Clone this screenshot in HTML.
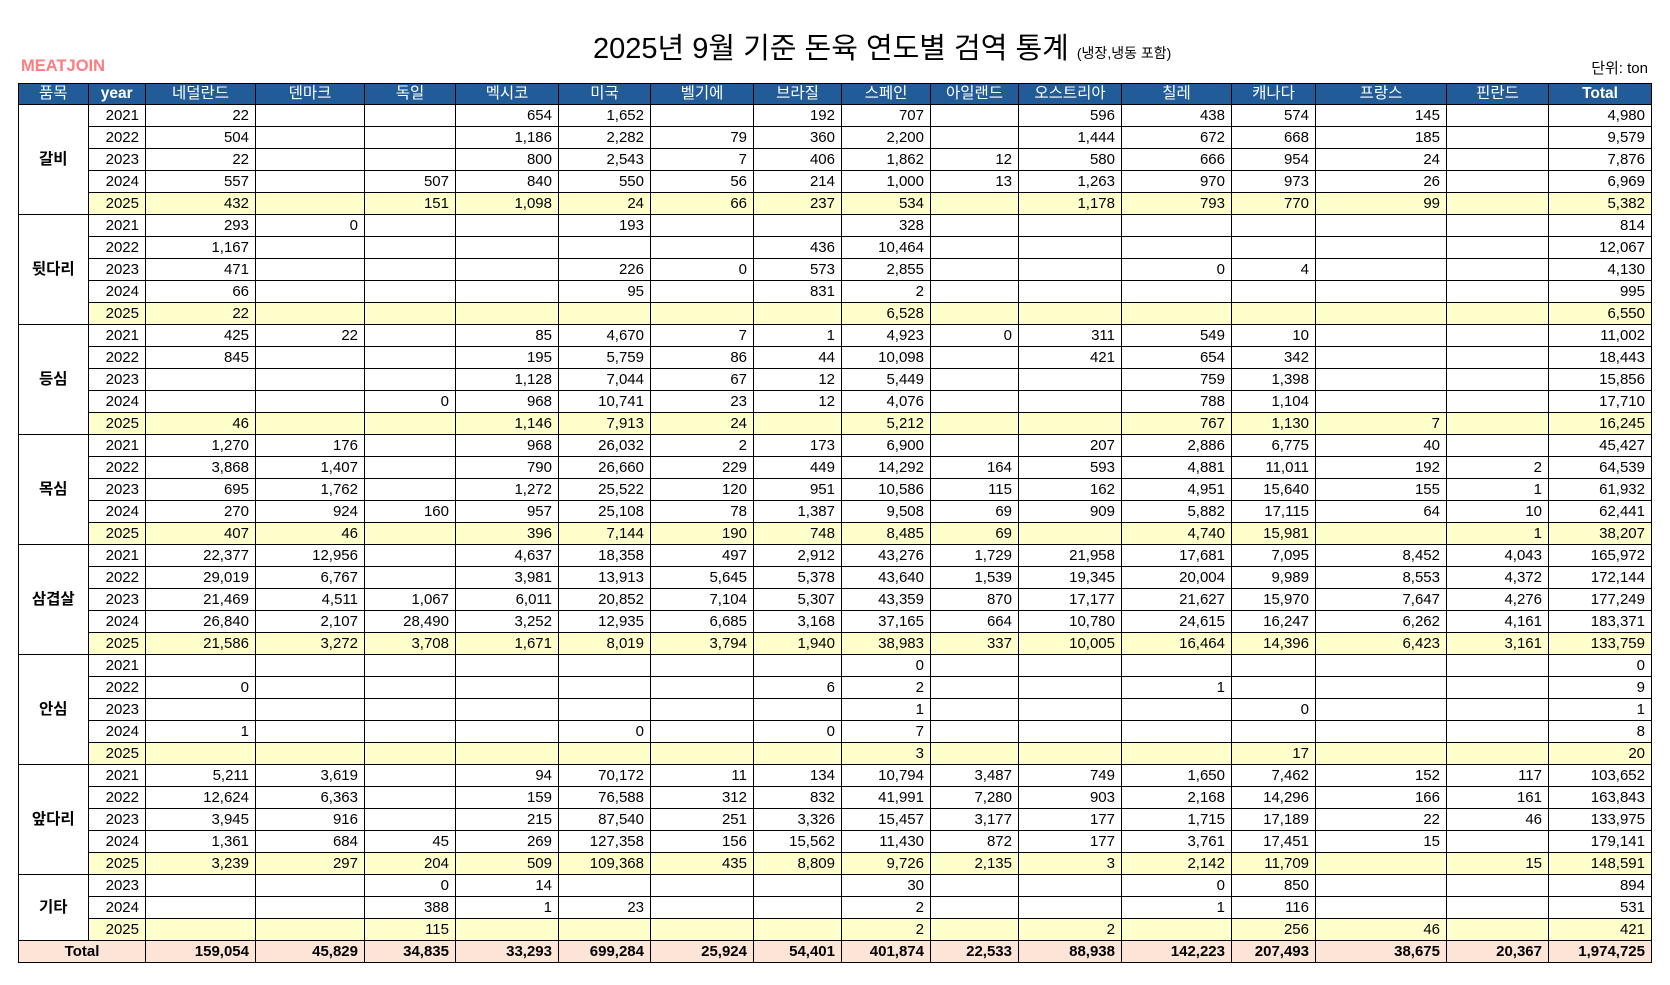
<!DOCTYPE html>
<html><head><meta charset="utf-8">
<style>
html,body{margin:0;padding:0;background:#fff;}
body{width:1670px;height:985px;position:relative;overflow:hidden;font-family:"Liberation Sans","Noto Sans CJK KR",sans-serif;}
#title{position:absolute;left:593px;top:25px;white-space:nowrap;font-size:29px;color:#000;}
#title small{font-size:14px;}
#logo{position:absolute;left:21px;top:57px;font-size:16.5px;font-weight:bold;color:#ff7c80;}
#unit{position:absolute;right:22px;top:57px;font-size:15px;}
table{position:absolute;left:18px;top:83px;border-collapse:collapse;table-layout:fixed;width:1633px;font-size:15px;}
td,th{border:1.3px solid #000;height:21px;padding:0 6px 0 0;text-align:right;white-space:nowrap;line-height:20px;overflow:hidden;}
th{background:#225c98;color:#fff;font-weight:normal;text-align:center;padding:0;height:20px;font-size:15.5px;}
th.b{font-weight:bold;}
td.g{text-align:center;font-weight:bold;font-size:15.5px;padding:0;}
tr.y td:not(.g){background:#ffffcc;}
tr.t td{background:#fce4d6;font-weight:bold;}
tr.t td.c{text-align:center;padding:0;}
</style></head><body>
<div id="title">2025년 9월 기준 돈육 연도별 검역 통계 <small>(냉장,냉동 포함)</small></div>
<div id="logo">MEATJOIN</div>
<div id="unit">단위: ton</div>
<table>
<colgroup><col style="width:69.5px"><col style="width:57.5px"><col style="width:110px"><col style="width:109px"><col style="width:91px"><col style="width:103px"><col style="width:92px"><col style="width:103px"><col style="width:88px"><col style="width:89px"><col style="width:88px"><col style="width:103px"><col style="width:110px"><col style="width:84px"><col style="width:131px"><col style="width:102px"><col style="width:103px"></colgroup>
<tr><th>품목</th><th class="b">year</th><th>네덜란드</th><th>덴마크</th><th>독일</th><th>멕시코</th><th>미국</th><th>벨기에</th><th>브라질</th><th>스페인</th><th>아일랜드</th><th>오스트리아</th><th>칠레</th><th>캐나다</th><th>프랑스</th><th>핀란드</th><th class="b">Total</th></tr>

<tr><td class="g" rowspan="5">갈비</td><td>2021</td><td>22</td><td></td><td></td><td>654</td><td>1,652</td><td></td><td>192</td><td>707</td><td></td><td>596</td><td>438</td><td>574</td><td>145</td><td></td><td>4,980</td></tr>
<tr><td>2022</td><td>504</td><td></td><td></td><td>1,186</td><td>2,282</td><td>79</td><td>360</td><td>2,200</td><td></td><td>1,444</td><td>672</td><td>668</td><td>185</td><td></td><td>9,579</td></tr>
<tr><td>2023</td><td>22</td><td></td><td></td><td>800</td><td>2,543</td><td>7</td><td>406</td><td>1,862</td><td>12</td><td>580</td><td>666</td><td>954</td><td>24</td><td></td><td>7,876</td></tr>
<tr><td>2024</td><td>557</td><td></td><td>507</td><td>840</td><td>550</td><td>56</td><td>214</td><td>1,000</td><td>13</td><td>1,263</td><td>970</td><td>973</td><td>26</td><td></td><td>6,969</td></tr>
<tr class="y"><td>2025</td><td>432</td><td></td><td>151</td><td>1,098</td><td>24</td><td>66</td><td>237</td><td>534</td><td></td><td>1,178</td><td>793</td><td>770</td><td>99</td><td></td><td>5,382</td></tr>

<tr><td class="g" rowspan="5">뒷다리</td><td>2021</td><td>293</td><td>0</td><td></td><td></td><td>193</td><td></td><td></td><td>328</td><td></td><td></td><td></td><td></td><td></td><td></td><td>814</td></tr>
<tr><td>2022</td><td>1,167</td><td></td><td></td><td></td><td></td><td></td><td>436</td><td>10,464</td><td></td><td></td><td></td><td></td><td></td><td></td><td>12,067</td></tr>
<tr><td>2023</td><td>471</td><td></td><td></td><td></td><td>226</td><td>0</td><td>573</td><td>2,855</td><td></td><td></td><td>0</td><td>4</td><td></td><td></td><td>4,130</td></tr>
<tr><td>2024</td><td>66</td><td></td><td></td><td></td><td>95</td><td></td><td>831</td><td>2</td><td></td><td></td><td></td><td></td><td></td><td></td><td>995</td></tr>
<tr class="y"><td>2025</td><td>22</td><td></td><td></td><td></td><td></td><td></td><td></td><td>6,528</td><td></td><td></td><td></td><td></td><td></td><td></td><td>6,550</td></tr>

<tr><td class="g" rowspan="5">등심</td><td>2021</td><td>425</td><td>22</td><td></td><td>85</td><td>4,670</td><td>7</td><td>1</td><td>4,923</td><td>0</td><td>311</td><td>549</td><td>10</td><td></td><td></td><td>11,002</td></tr>
<tr><td>2022</td><td>845</td><td></td><td></td><td>195</td><td>5,759</td><td>86</td><td>44</td><td>10,098</td><td></td><td>421</td><td>654</td><td>342</td><td></td><td></td><td>18,443</td></tr>
<tr><td>2023</td><td></td><td></td><td></td><td>1,128</td><td>7,044</td><td>67</td><td>12</td><td>5,449</td><td></td><td></td><td>759</td><td>1,398</td><td></td><td></td><td>15,856</td></tr>
<tr><td>2024</td><td></td><td></td><td>0</td><td>968</td><td>10,741</td><td>23</td><td>12</td><td>4,076</td><td></td><td></td><td>788</td><td>1,104</td><td></td><td></td><td>17,710</td></tr>
<tr class="y"><td>2025</td><td>46</td><td></td><td></td><td>1,146</td><td>7,913</td><td>24</td><td></td><td>5,212</td><td></td><td></td><td>767</td><td>1,130</td><td>7</td><td></td><td>16,245</td></tr>

<tr><td class="g" rowspan="5">목심</td><td>2021</td><td>1,270</td><td>176</td><td></td><td>968</td><td>26,032</td><td>2</td><td>173</td><td>6,900</td><td></td><td>207</td><td>2,886</td><td>6,775</td><td>40</td><td></td><td>45,427</td></tr>
<tr><td>2022</td><td>3,868</td><td>1,407</td><td></td><td>790</td><td>26,660</td><td>229</td><td>449</td><td>14,292</td><td>164</td><td>593</td><td>4,881</td><td>11,011</td><td>192</td><td>2</td><td>64,539</td></tr>
<tr><td>2023</td><td>695</td><td>1,762</td><td></td><td>1,272</td><td>25,522</td><td>120</td><td>951</td><td>10,586</td><td>115</td><td>162</td><td>4,951</td><td>15,640</td><td>155</td><td>1</td><td>61,932</td></tr>
<tr><td>2024</td><td>270</td><td>924</td><td>160</td><td>957</td><td>25,108</td><td>78</td><td>1,387</td><td>9,508</td><td>69</td><td>909</td><td>5,882</td><td>17,115</td><td>64</td><td>10</td><td>62,441</td></tr>
<tr class="y"><td>2025</td><td>407</td><td>46</td><td></td><td>396</td><td>7,144</td><td>190</td><td>748</td><td>8,485</td><td>69</td><td></td><td>4,740</td><td>15,981</td><td></td><td>1</td><td>38,207</td></tr>

<tr><td class="g" rowspan="5">삼겹살</td><td>2021</td><td>22,377</td><td>12,956</td><td></td><td>4,637</td><td>18,358</td><td>497</td><td>2,912</td><td>43,276</td><td>1,729</td><td>21,958</td><td>17,681</td><td>7,095</td><td>8,452</td><td>4,043</td><td>165,972</td></tr>
<tr><td>2022</td><td>29,019</td><td>6,767</td><td></td><td>3,981</td><td>13,913</td><td>5,645</td><td>5,378</td><td>43,640</td><td>1,539</td><td>19,345</td><td>20,004</td><td>9,989</td><td>8,553</td><td>4,372</td><td>172,144</td></tr>
<tr><td>2023</td><td>21,469</td><td>4,511</td><td>1,067</td><td>6,011</td><td>20,852</td><td>7,104</td><td>5,307</td><td>43,359</td><td>870</td><td>17,177</td><td>21,627</td><td>15,970</td><td>7,647</td><td>4,276</td><td>177,249</td></tr>
<tr><td>2024</td><td>26,840</td><td>2,107</td><td>28,490</td><td>3,252</td><td>12,935</td><td>6,685</td><td>3,168</td><td>37,165</td><td>664</td><td>10,780</td><td>24,615</td><td>16,247</td><td>6,262</td><td>4,161</td><td>183,371</td></tr>
<tr class="y"><td>2025</td><td>21,586</td><td>3,272</td><td>3,708</td><td>1,671</td><td>8,019</td><td>3,794</td><td>1,940</td><td>38,983</td><td>337</td><td>10,005</td><td>16,464</td><td>14,396</td><td>6,423</td><td>3,161</td><td>133,759</td></tr>

<tr><td class="g" rowspan="5">안심</td><td>2021</td><td></td><td></td><td></td><td></td><td></td><td></td><td></td><td>0</td><td></td><td></td><td></td><td></td><td></td><td></td><td>0</td></tr>
<tr><td>2022</td><td>0</td><td></td><td></td><td></td><td></td><td></td><td>6</td><td>2</td><td></td><td></td><td>1</td><td></td><td></td><td></td><td>9</td></tr>
<tr><td>2023</td><td></td><td></td><td></td><td></td><td></td><td></td><td></td><td>1</td><td></td><td></td><td></td><td>0</td><td></td><td></td><td>1</td></tr>
<tr><td>2024</td><td>1</td><td></td><td></td><td></td><td>0</td><td></td><td>0</td><td>7</td><td></td><td></td><td></td><td></td><td></td><td></td><td>8</td></tr>
<tr class="y"><td>2025</td><td></td><td></td><td></td><td></td><td></td><td></td><td></td><td>3</td><td></td><td></td><td></td><td>17</td><td></td><td></td><td>20</td></tr>

<tr><td class="g" rowspan="5">앞다리</td><td>2021</td><td>5,211</td><td>3,619</td><td></td><td>94</td><td>70,172</td><td>11</td><td>134</td><td>10,794</td><td>3,487</td><td>749</td><td>1,650</td><td>7,462</td><td>152</td><td>117</td><td>103,652</td></tr>
<tr><td>2022</td><td>12,624</td><td>6,363</td><td></td><td>159</td><td>76,588</td><td>312</td><td>832</td><td>41,991</td><td>7,280</td><td>903</td><td>2,168</td><td>14,296</td><td>166</td><td>161</td><td>163,843</td></tr>
<tr><td>2023</td><td>3,945</td><td>916</td><td></td><td>215</td><td>87,540</td><td>251</td><td>3,326</td><td>15,457</td><td>3,177</td><td>177</td><td>1,715</td><td>17,189</td><td>22</td><td>46</td><td>133,975</td></tr>
<tr><td>2024</td><td>1,361</td><td>684</td><td>45</td><td>269</td><td>127,358</td><td>156</td><td>15,562</td><td>11,430</td><td>872</td><td>177</td><td>3,761</td><td>17,451</td><td>15</td><td></td><td>179,141</td></tr>
<tr class="y"><td>2025</td><td>3,239</td><td>297</td><td>204</td><td>509</td><td>109,368</td><td>435</td><td>8,809</td><td>9,726</td><td>2,135</td><td>3</td><td>2,142</td><td>11,709</td><td></td><td>15</td><td>148,591</td></tr>

<tr><td class="g" rowspan="3">기타</td><td>2023</td><td></td><td></td><td>0</td><td>14</td><td></td><td></td><td></td><td>30</td><td></td><td></td><td>0</td><td>850</td><td></td><td></td><td>894</td></tr>
<tr><td>2024</td><td></td><td></td><td>388</td><td>1</td><td>23</td><td></td><td></td><td>2</td><td></td><td></td><td>1</td><td>116</td><td></td><td></td><td>531</td></tr>
<tr class="y"><td>2025</td><td></td><td></td><td>115</td><td></td><td></td><td></td><td></td><td>2</td><td></td><td>2</td><td></td><td>256</td><td>46</td><td></td><td>421</td></tr>

<tr class="t"><td class="c" colspan="2">Total</td><td>159,054</td><td>45,829</td><td>34,835</td><td>33,293</td><td>699,284</td><td>25,924</td><td>54,401</td><td>401,874</td><td>22,533</td><td>88,938</td><td>142,223</td><td>207,493</td><td>38,675</td><td>20,367</td><td>1,974,725</td></tr>
</table>
</body></html>
